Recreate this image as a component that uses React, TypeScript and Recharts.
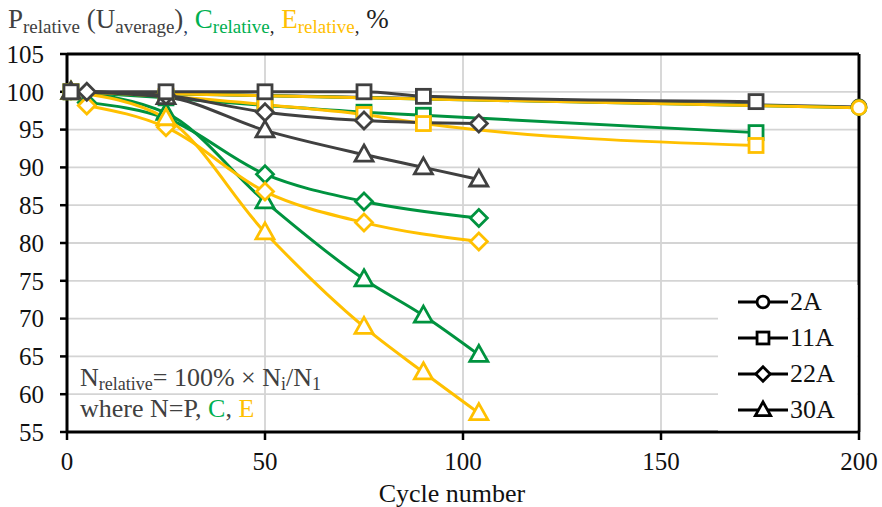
import React from "react";
import { LineChart, Line, XAxis, YAxis, CartesianGrid, ReferenceLine } from "recharts";

// cycle numbers per test current
const cycles2A = [1, 200];
const cycles11A = [1, 25, 50, 75, 90, 174];
const cycles22A = [5, 25, 50, 75, 104];
const cycles30A = [1, 25, 50, 75, 90, 104];

// relative power (P), capacity (C), energy (E), %
const p2A = [100, 98.0];
const c2A = [100, 97.9];
const e2A = [100, 97.9];

const p11A = [100, 100, 100, 100, 99.4, 98.7];
const c11A = [100, 99.2, 98.2, 97.3, 96.9, 94.6];
const e11A = [100, 99.4, 98.3, 97.0, 95.8, 92.9];

const p22A = [100, 99.5, 97.3, 96.2, 95.8];
const c22A = [98.6, 96.5, 89.1, 85.5, 83.3];
const e22A = [98.2, 95.3, 86.8, 82.7, 80.2];

const p30A = [100, 99.3, 94.9, 91.7, 90.0, 88.4];
const c30A = [100, 97.2, 85.5, 75.2, 70.4, 65.2];
const e30A = [100, 96.5, 81.4, 68.9, 62.9, 57.5];

const xTicks = [0, 50, 100, 150, 200];
const yTicks = [55, 60, 65, 70, 75, 80, 85, 90, 95, 100, 105];
const legendLabels = ["2A", "11A", "22A", "30A"];

const GRAY = "#404040";
const GREEN = "#00933F";
const GOLD = "#FFC000";
const FONT = "'Liberation Serif', 'Times New Roman', serif";

type Shape = "circle" | "square" | "diamond" | "triangle";

function marker(shape: Shape, cx: number, cy: number, color: string, s = 1, key?: string) {
  const common = { fill: "#fff", stroke: color, strokeWidth: 2.8 };
  if (shape === "circle") return <circle key={key} cx={cx} cy={cy} r={7 * s} {...common} />;
  if (shape === "square")
    return <rect key={key} x={cx - 7 * s} y={cy - 7 * s} width={14 * s} height={14 * s} {...common} />;
  if (shape === "diamond") {
    const h = 8.5 * s;
    return <polygon key={key} points={`${cx},${cy - h} ${cx + h},${cy} ${cx},${cy + h} ${cx - h},${cy}`} {...common} />;
  }
  return (
    <polygon key={key}
      points={`${cx},${cy - 9.5 * s} ${cx + 9 * s},${cy + 6.5 * s} ${cx - 9 * s},${cy + 6.5 * s}`} {...common} />
  );
}

const toRows = (xs: number[], ys: number[]) => xs.map((x, i) => ({ x, y: ys[i] }));

const series = [
  { name: "P 2A", data: toRows(cycles2A, p2A), color: GRAY, shape: "circle" },
  { name: "C 2A", data: toRows(cycles2A, c2A), color: GREEN, shape: "circle" },
  { name: "E 2A", data: toRows(cycles2A, e2A), color: GOLD, shape: "circle" },
  { name: "C 22A", data: toRows(cycles22A, c22A), color: GREEN, shape: "diamond" },
  { name: "C 30A", data: toRows(cycles30A, c30A), color: GREEN, shape: "triangle" },
  { name: "C 11A", data: toRows(cycles11A, c11A), color: GREEN, shape: "square" },
  { name: "E 22A", data: toRows(cycles22A, e22A), color: GOLD, shape: "diamond" },
  { name: "E 30A", data: toRows(cycles30A, e30A), color: GOLD, shape: "triangle" },
  { name: "E 11A", data: toRows(cycles11A, e11A), color: GOLD, shape: "square" },
  { name: "P 30A", data: toRows(cycles30A, p30A), color: GRAY, shape: "triangle" },
  { name: "P 22A", data: toRows(cycles22A, p22A), color: GRAY, shape: "diamond" },
  { name: "P 11A", data: toRows(cycles11A, p11A), color: GRAY, shape: "square" },
] as { name: string; data: { x: number; y: number }[]; color: string; shape: Shape }[];

const legendShapes: Shape[] = ["circle", "square", "diamond", "triangle"];

export default function App() {
  return (
    <div style={{ position: "absolute", left: 0, top: 0, width: 882, height: 507, background: "#fff", fontFamily: FONT }}>
      <LineChart width={882} height={507} margin={{ top: 54, right: 23, left: 7, bottom: 0 }}>
        <CartesianGrid stroke="#d4d4d4" strokeWidth={1.8} />
        <XAxis type="number" dataKey="x" domain={[0, 200]} ticks={xTicks} height={75}
          axisLine={{ stroke: "#000", strokeWidth: 3 }} tickLine={{ stroke: "#000", strokeWidth: 2.5 }}
          tickSize={8} tickMargin={12} tick={{ fontSize: 25, fill: "#111", fontFamily: FONT }}
          label={{ value: "Cycle number", position: "insideBottom", offset: 5, dx: -11, fontSize: 26, fill: "#111", fontFamily: FONT }} />
        <YAxis type="number" domain={[55, 105]} ticks={yTicks} width={60}
          axisLine={{ stroke: "#000", strokeWidth: 3 }} tickLine={{ stroke: "#000", strokeWidth: 2.5 }}
          tickSize={7} tickMargin={16} tick={{ fontSize: 25, fill: "#111", fontFamily: FONT }} />
        <ReferenceLine y={105} stroke="#000" strokeWidth={3} />
        <ReferenceLine x={200} stroke="#000" strokeWidth={3} />
        {series.map((s) => (
          <Line key={s.name} data={s.data} dataKey="y" name={s.name} type="monotone" stroke={s.color}
            strokeWidth={3} isAnimationActive={false} activeDot={false}
            dot={(p: any) => marker(s.shape, p.cx, p.cy, s.color, 1, `${s.name}-${p.index}`)} />
        ))}
      </LineChart>

      <svg width={882} height={507} style={{ position: "absolute", left: 0, top: 0, pointerEvents: "none" }} fontFamily={FONT}>
        {/* title */}
        <text x={8} y={28} fontSize={27} fill={GRAY}>
          P<tspan fontSize={19} dy={5}>relative</tspan>
          <tspan dy={-5}> (U</tspan><tspan fontSize={19} dy={5}>average</tspan>
          <tspan dy={-5}>)</tspan><tspan fontSize={19} dy={5} fill="#1F3864">,</tspan>
          <tspan dy={-5} fill="#00B050"> C</tspan><tspan fontSize={19} dy={5} fill="#00B050">relative</tspan>
          <tspan fontSize={19} fill="#222">,</tspan>
          <tspan dy={-5} fill={GOLD}> E</tspan><tspan fontSize={19} dy={5} fill={GOLD}>relative</tspan>
          <tspan fontSize={19} fill="#222">,</tspan>
          <tspan dy={-5} fill="#222"> %</tspan>
        </text>

        {/* formula note */}
        <text x={80} y={386} fontSize={26} fill={GRAY}>
          N<tspan fontSize={18} dy={4}>relative</tspan>
          <tspan dy={-4}>= 100% × N</tspan><tspan fontSize={18} dy={4}>i</tspan>
          <tspan dy={-4}>/N</tspan><tspan fontSize={18} dy={4}>1</tspan>
        </text>
        <text x={80} y={417} fontSize={26} fill={GRAY}>
          where N=P, <tspan fill="#00B050">C</tspan>, <tspan fill={GOLD}>E</tspan>
        </text>

        {/* legend */}
        <rect x={718} y={285} width={139.5} height={145.5} fill="#fff" />
        {legendLabels.map((lab, i) => {
          const cy = 302 + i * 36;
          return (
            <g key={lab}>
              <line x1={738} x2={788} y1={cy} y2={cy} stroke="#000" strokeWidth={2.8} />
              {marker(legendShapes[i], 763, cy, "#000", 0.85)}
              <text x={790} y={cy + 8} fontSize={26} fill="#111">{lab}</text>
            </g>
          );
        })}
      </svg>
    </div>
  );
}
